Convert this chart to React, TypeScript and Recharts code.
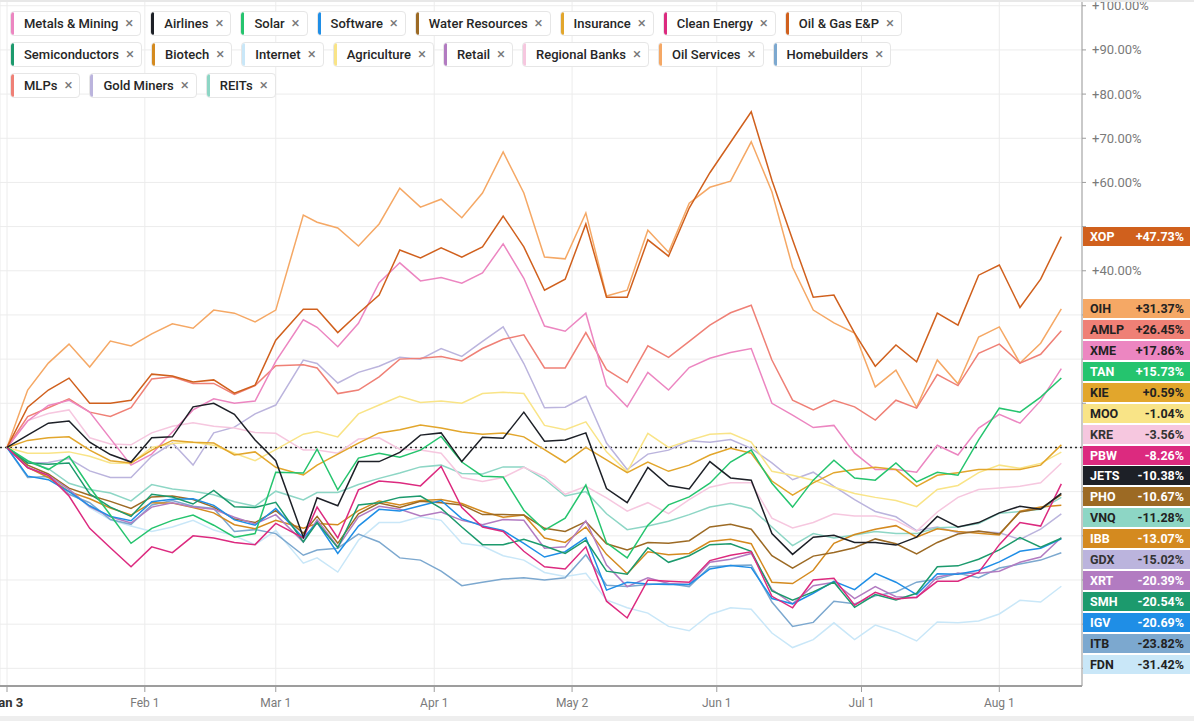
import React from 'react';
import { LineChart, Line, XAxis, YAxis, CartesianGrid, ReferenceLine } from 'recharts';

// trading-day index since Jan 3 (x positions of the samples)
const DAYS = [0,3,6,9,12,15,18,21,24,27,30,33,36,39,43,45,48,51,54,57,60,63,66,69,72,75,78,81,84,87,90,93,96,99,102,105,108,111,114,117,120,123,126,129,132,135,138,141,144,147,150,153];
const TICK_DAYS = [0, 20, 39, 62, 82, 103, 124, 144];
const TICK_LABELS = ['Jan 3', 'Feb 1', 'Mar 1', 'Apr 1', 'May 2', 'Jun 1', 'Jul 1', 'Aug 1'];
const Y_TICKS = [-50, -40, -30, -20, -10, 0, 10, 20, 30, 40, 50, 60, 70, 80, 90, 100];

// % change since Jan 3
const XOP = [0,9.1,13,15.7,10,10,10.7,16.6,16.2,14.8,15.3,12.3,14.1,24.3,31.3,31.3,26,30.4,34.5,44.7,42.9,45.2,43.1,45.4,52.4,45.4,35.6,38.1,50.6,34,34,47,43.3,54.2,62.2,69.1,76,60.5,47,34,34.5,25.9,18.4,23.2,19.4,30.4,27.7,39,41.3,31.7,38.1,47.73];
const OIH = [0,13,19.1,23.4,18.2,24.1,23,25.7,28,27,31.1,30.4,28.4,31.1,52.6,51,49.7,45.6,50.6,58.7,54.4,56.2,52,57.6,66.9,57.6,43.1,42.7,53.1,34.3,35.6,49.2,44.2,55.3,58.9,60.3,69.2,57.9,40.8,31.1,28.2,25.9,13.7,17.5,9.1,19.8,14.4,25,27.3,19.1,23.6,31.37];
const AMLP = [0,7,9,11,8,7,9,15.5,16,14.5,14.5,12,14,18.5,18.7,18,12.2,13,16,20,20.2,20.6,19.6,22.4,24.5,25.5,18,18,26,17.6,14.7,23,20.4,24,27.7,30.5,32.2,19.8,10.7,8.5,10.7,9.2,6.2,10.7,8.9,16.5,14,21.3,23.4,19.1,21.1,26.45];
const XME = [0,6,9.5,10.7,8,2,-4,-1.5,3.5,8.5,11,10,10.5,19.5,28.9,27.2,22.8,28.1,37.3,41.8,37.7,38.5,37.2,39.5,46.1,38.3,27.5,26.3,30.4,14,9.2,17,13,18.1,20.2,21.5,22.4,10,7.3,4.5,5,-1.3,-5,-5,-5.6,0.5,-1.7,4.4,7.5,5.5,10.6,17.86];
const TAN = [0,-3,-5,-2,-9,-15.3,-21.7,-18.3,-16.5,-15.3,-17.6,-20.3,-19.5,-5.6,-5.8,-0.4,-9.6,-2.4,-1.3,-2.2,-0.6,2.5,-3.3,-6.5,-6.7,-14.2,-18.7,-16,-8.5,-21.6,-25,-17.6,-13,-11.2,-8.1,-3.3,-0.6,-8.1,-13.5,-7.4,-2.9,-6.9,-7.4,-3.5,-7.8,-5.6,-6.3,1.7,8.9,8,11.4,15.73];
const KIE = [0,1.6,2.2,2.4,-0.6,-3,-3.5,-0.6,1.6,1.2,1,-1.7,-1,-4.5,-6.2,-4,-1.5,1,3.3,4,5.1,4.4,3.5,3,3.3,2.4,-0.5,-3.4,0,-2.8,-5.7,-3.3,-5.4,-4,-1.7,-0.2,-1.3,-7.6,-10.8,-8,-5.7,-5,-4.5,-5,-8.8,-6.3,-5.7,-5,-5,-5,-4,0.59];
const MOO = [0,-1.3,-1.3,-1,-2,-3.5,-3.6,0,0.9,1.2,0.5,-1.3,-3,-0.5,3,3.6,2.4,7.6,9.6,11.6,10.2,10.5,10,12.2,12.5,12.2,5,4,5.8,-1,-5.5,3.2,0,1.6,3,3.2,1.2,-5.4,-6.3,-7.4,-9,-10.4,-11.3,-12,-13.4,-9.5,-8.6,-5.7,-4,-4.7,-3.6,-1.04];
const KRE = [0,6.1,7.7,8.5,2.2,0.8,0.6,3.3,4.8,5.6,4.8,4.4,3.4,3.2,-0.6,-0.6,-1.3,1.9,2.2,-0.4,-0.6,-1.3,-6.8,-7.7,-6.8,-4.5,-6.6,-10.6,-8.8,-11.4,-14.4,-12.5,-15,-11.8,-9,-8,-8,-16,-18.2,-17,-15,-15.5,-15.5,-16.5,-19,-14.6,-11.3,-9.5,-9.2,-8.8,-8,-3.56];
const PBW = [0,-4.6,-6.3,-11,-18.3,-22.7,-27,-22.5,-23.8,-20,-20.5,-21.5,-22,-17.2,-20.5,-13.5,-20.5,-9.6,-7.6,-8,-8.7,-4.3,-13.6,-18,-19,-23.5,-27,-27.5,-22.5,-34.8,-38.6,-30,-30.3,-30.5,-25.6,-24.4,-23.6,-33.7,-36.3,-30,-29.6,-35.7,-32.8,-34.3,-33.9,-30.3,-30.3,-28.3,-22,-17,-17.8,-8.26];
const JETS = [0,2.8,5.5,6,1.2,-1.6,-3.3,2.2,2.4,9.2,10,7.5,1.7,-3,-20.3,-11.4,-13.2,-3.2,-3.2,-1.1,2.8,3.3,-3.2,2.3,2.1,8,1.4,1.7,3.3,-9.3,-12.5,-4.5,-8.6,-9.4,-3.2,-6.9,-7.4,-19.5,-24.2,-20.3,-19.9,-21.5,-21.5,-22.1,-20.3,-15.6,-18,-17,-14.8,-13.3,-14,-10.38];
const PHO = [0,-4,-6,-9.2,-10.8,-12.2,-13.8,-11.2,-11,-11.8,-13.5,-16.2,-17,-14.3,-19.4,-15.6,-21.7,-15,-12.6,-13.6,-12.2,-12.5,-13,-15.2,-15.2,-15.3,-18.3,-19,-16.8,-21.8,-23.2,-21.5,-21.7,-21.1,-18,-17.4,-18.5,-24.5,-27.3,-24.6,-23.8,-22.7,-20.7,-21.8,-24.1,-21.5,-19.6,-18.9,-19.6,-14.6,-13.8,-10.67];
const VNQ = [0,-3.3,-4.8,-8.1,-9.5,-10.3,-12.1,-8.4,-9.4,-9.9,-10.7,-12.3,-13.3,-9.9,-11.9,-10.2,-10.2,-8.4,-7,-5.8,-4.4,-4,-5.9,-6,-4.4,-4.4,-7.2,-11,-10,-15,-18.6,-17.8,-16.7,-15.2,-13.5,-12.7,-13.8,-18,-22.2,-19.5,-20.5,-19.8,-19,-19.5,-19.5,-18.2,-18,-17.2,-14.9,-14.5,-14,-11.28];
const IBB = [0,-4.5,-6.8,-10,-11.6,-13.7,-15.3,-12.5,-12.6,-13.6,-14.8,-17.5,-18.4,-16.5,-18.3,-17.2,-17.5,-14.3,-12.1,-13,-12,-11.8,-12.7,-14.5,-15.8,-15.3,-20.5,-21.5,-18,-24.2,-28.6,-23.6,-24.3,-24,-21.3,-20.8,-21.8,-30.5,-30.8,-27.8,-21.7,-19.7,-18.5,-17.7,-20.3,-18.4,-19,-19.4,-19.8,-14.4,-13.5,-13.07];
const GDX = [0,-3.5,-3.4,-2.5,-5.3,-6.8,-6.8,-2,1,-4,3.3,4.6,7.6,9.6,19.8,19,14.6,17,18.4,20.4,20,22.4,20.6,24,27.3,19,9,9.1,11.6,1,-5,-1.5,-0.6,1.5,1.2,1.8,-0.2,-3.5,-7.3,-5.6,-8.8,-11.8,-14.5,-15.7,-18.8,-18,-19.3,-19,-19.3,-20.8,-18.5,-15.02];
const XRT = [0,-4.5,-6.3,-9.5,-13.4,-15.7,-17.1,-13.5,-12.5,-13.5,-14,-15.8,-17.3,-15.2,-21.4,-16.4,-22.5,-15.7,-13.3,-14,-15.5,-14.6,-16.5,-17.5,-16.3,-16.5,-22.8,-22.5,-16.6,-26.6,-31.5,-29.5,-30.8,-31,-26,-25.3,-24,-32.2,-35.4,-31.3,-30.5,-34.2,-31.5,-33.8,-34,-29.3,-28.5,-28.5,-28,-26,-24.8,-20.39];
const SMH = [0,-3.5,-3.8,-3.5,-10.5,-13.5,-15.6,-10.6,-11.2,-12.8,-9.7,-13.4,-13.6,-12.4,-21.4,-17,-22.7,-13,-12.5,-11.3,-11,-13.8,-18,-22,-22,-20.8,-22.3,-24,-21,-28,-28.7,-22.7,-26,-24.5,-22,-21.8,-23.5,-32.5,-34.6,-32.7,-30.5,-36.2,-33.3,-34.5,-33,-27,-26.8,-25.3,-23.2,-20.4,-22.6,-20.54];
const IGV = [0,-6.5,-7.3,-10,-13.2,-15.6,-16.6,-12.3,-11.7,-11.6,-13.1,-16.4,-17.6,-13.8,-20.5,-17,-24,-17.8,-14,-14.4,-13.2,-12,-16.1,-17.8,-18.8,-21.7,-24.8,-23.6,-20.4,-32.3,-30.5,-30.9,-31,-31,-27.5,-26.7,-27.2,-34.2,-35.4,-33,-30.3,-32.2,-28.5,-30.5,-33.3,-28.6,-28.7,-27.8,-25.9,-23.5,-22.8,-20.69];
const ITB = [0,-6.8,-6.6,-10.6,-12.5,-16.3,-17.4,-13,-12,-13.3,-13.8,-19,-18.6,-19.5,-24.4,-23.2,-22.8,-19.6,-21.4,-25,-25.5,-28,-31.3,-30.5,-29.8,-29.5,-30,-29.5,-24.3,-31.2,-31.5,-31,-30.8,-31.5,-27,-26.7,-26.6,-35,-40.5,-39.6,-34.8,-35.4,-33.6,-32.7,-30.5,-29.8,-28.5,-29.5,-27.3,-26.4,-25.5,-23.82];
const FDN = [0,-4.3,-6.8,-9.5,-13.6,-16.4,-17.8,-19,-18,-16.5,-18.7,-20,-22,-18.8,-26.2,-25,-28.2,-21,-17,-17,-15.7,-16.5,-21.7,-22.3,-24.5,-25.5,-28.3,-29.2,-28.5,-34.5,-36.3,-37.5,-40.5,-41.5,-37.8,-36.3,-36.6,-42,-45.3,-43.5,-39.7,-43.5,-40.2,-41.7,-43.8,-39.5,-39.7,-39.3,-37.7,-34.6,-35,-31.42];

type Series = { ticker: string; name: string; color: string; text: string; values: number[] };

const SERIES: Series[] = [
  { ticker: 'XME', name: 'Metals & Mining', color: '#ec86c1', text: '#222', values: XME },
  { ticker: 'JETS', name: 'Airlines', color: '#1d2027', text: '#fff', values: JETS },
  { ticker: 'TAN', name: 'Solar', color: '#25c46e', text: '#fff', values: TAN },
  { ticker: 'IGV', name: 'Software', color: '#1f8ee6', text: '#fff', values: IGV },
  { ticker: 'PHO', name: 'Water Resources', color: '#9c6a24', text: '#fff', values: PHO },
  { ticker: 'KIE', name: 'Insurance', color: '#e2a62c', text: '#222', values: KIE },
  { ticker: 'PBW', name: 'Clean Energy', color: '#dc2a7f', text: '#fff', values: PBW },
  { ticker: 'XOP', name: 'Oil & Gas E&P', color: '#d0601d', text: '#fff', values: XOP },
  { ticker: 'SMH', name: 'Semiconductors', color: '#1c9a6d', text: '#fff', values: SMH },
  { ticker: 'IBB', name: 'Biotech', color: '#d48a1f', text: '#fff', values: IBB },
  { ticker: 'FDN', name: 'Internet', color: '#c9e7f8', text: '#222', values: FDN },
  { ticker: 'MOO', name: 'Agriculture', color: '#f9e487', text: '#222', values: MOO },
  { ticker: 'XRT', name: 'Retail', color: '#b27bc1', text: '#fff', values: XRT },
  { ticker: 'KRE', name: 'Regional Banks', color: '#f6c7df', text: '#333', values: KRE },
  { ticker: 'OIH', name: 'Oil Services', color: '#f5a865', text: '#222', values: OIH },
  { ticker: 'ITB', name: 'Homebuilders', color: '#7ca8cf', text: '#222', values: ITB },
  { ticker: 'AMLP', name: 'MLPs', color: '#ef8076', text: '#222', values: AMLP },
  { ticker: 'GDX', name: 'Gold Miners', color: '#bbb4dd', text: '#333', values: GDX },
  { ticker: 'VNQ', name: 'REITs', color: '#8dd6c5', text: '#222', values: VNQ },
];

const LEGEND_ROWS = [
  ['XME', 'JETS', 'TAN', 'IGV', 'PHO', 'KIE', 'PBW', 'XOP'],
  ['SMH', 'IBB', 'FDN', 'MOO', 'XRT', 'KRE', 'OIH', 'ITB'],
  ['AMLP', 'GDX', 'VNQ'],
];

const DRAW_ORDER = ['FDN', 'ITB', 'GDX', 'VNQ', 'KRE', 'MOO', 'OIH', 'AMLP', 'XME', 'IBB', 'PHO', 'KIE', 'XRT', 'IGV', 'SMH', 'TAN', 'PBW', 'XOP', 'JETS'];

const W = 1194;
const H = 721;
const Y_AXIS_W = 112;
const X_AXIS_H = 35;
const PLOT_BOTTOM = H - X_AXIS_H;
const Y_MIN = -54;
const Y_MAX = 101.3;
const X_DOMAIN: [number, number] = [-1.016, 156];
const FONT = 'Roboto, "Liberation Sans", Arial, sans-serif';

const byTicker = (t: string) => SERIES.find((s) => s.ticker === t)!;

const data = DAYS.map((day, i) => {
  const row: Record<string, number> = { day };
  SERIES.forEach((s) => {
    row[s.ticker] = s.values[i];
  });
  return row;
});

const yOf = (v: number) => ((Y_MAX - v) / (Y_MAX - Y_MIN)) * PLOT_BOTTOM;

const fmtPct = (v: number) => (v > 0 ? '+' : '') + v.toFixed(2) + '%';

function badgeLayout() {
  const BH = 20.9;
  const items = SERIES.map((s) => ({ s, last: s.values[s.values.length - 1] }))
    .sort((a, b) => b.last - a.last)
    .map((it) => ({ ...it, y: yOf(it.last) }));
  for (let i = 1; i < items.length; i++) items[i].y = Math.max(items[i].y, items[i - 1].y + BH);
  const n = items.length;
  items[n - 1].y = Math.min(items[n - 1].y, PLOT_BOTTOM - 22);
  for (let i = n - 2; i >= 0; i--) items[i].y = Math.min(items[i].y, items[i + 1].y - BH);
  return items;
}

const BADGES = badgeLayout();

function XTick(props: any) {
  const { x, y, payload } = props;
  const idx = TICK_DAYS.indexOf(payload.value);
  const first = idx === 0;
  return (
    <text
      x={x}
      y={y}
      dy={13}
      textAnchor="middle"
      fontFamily={FONT}
      fontSize={first ? 13 : 12}
      fontWeight={first ? 700 : 400}
      fill={first ? '#333' : '#7a7a7a'}
    >
      {idx >= 0 ? TICK_LABELS[idx] : ''}
    </text>
  );
}

// right-axis labels; the ones sitting under a value badge are hidden by it
function YTick(props: any) {
  const { x, y, payload } = props;
  const covered = BADGES.some((b) => Math.abs(b.y - y) < 13);
  if (covered) return <g />;
  return (
    <text x={x} y={y} dy={4.5} textAnchor="start" fontFamily={FONT} fontSize={13} fill="#7a7a7a">
      {fmtPct(payload.value)}
    </text>
  );
}

function Chip({ s }: { s: Series }) {
  return (
    <div
      style={{
        display: 'inline-flex',
        alignItems: 'center',
        height: 25,
        boxSizing: 'border-box',
        border: '1px solid #e6e6e6',
        borderRadius: 4,
        background: '#fff',
        overflow: 'hidden',
        marginRight: 9,
      }}
    >
      <div style={{ width: 3, alignSelf: 'stretch', background: s.color, borderRadius: 2 }} />
      <span style={{ marginLeft: 10, fontSize: 13, fontWeight: 500, color: '#262626', fontFamily: FONT, whiteSpace: 'nowrap' }}>
        {s.name}
      </span>
      <span style={{ marginLeft: 7, marginRight: 7, fontSize: 15, color: '#777', fontFamily: FONT, lineHeight: '15px' }}>×</span>
    </div>
  );
}

export default function App() {
  return (
    <div style={{ position: 'absolute', left: 0, top: 0, width: W, height: H, background: '#fff', overflow: 'hidden', fontFamily: FONT }}>
      <div style={{ position: 'absolute', left: 0, top: 0 }}>
        <LineChart width={W} height={H} data={data} margin={{ top: 0, right: 0, bottom: 0, left: 0 }}>
          <CartesianGrid stroke="#ececec" strokeWidth={1} />
          <XAxis
            dataKey="day"
            type="number"
            domain={X_DOMAIN}
            allowDataOverflow
            ticks={TICK_DAYS}
            interval={0}
            height={X_AXIS_H}
            axisLine={{ stroke: '#9d9d9d', strokeWidth: 2 }}
            tickLine={{ stroke: '#9d9d9d' }}
            tickSize={6}
            tickMargin={2}
            tick={<XTick />}
          />
          <YAxis
            orientation="right"
            type="number"
            domain={[Y_MIN, Y_MAX]}
            allowDataOverflow
            ticks={Y_TICKS}
            interval={0}
            width={Y_AXIS_W}
            axisLine={{ stroke: '#9d9d9d' }}
            tickLine={{ stroke: '#9d9d9d' }}
            tickSize={4}
            tickMargin={6}
            tick={<YTick />}
          />
          <ReferenceLine y={0} stroke="#2a2a2a" strokeDasharray="2 3" strokeWidth={1.6} />
          {DRAW_ORDER.map((t) => {
            const s = byTicker(t);
            return (
              <Line
                key={t}
                type="linear"
                dataKey={t}
                stroke={s.color}
                strokeWidth={1.5}
                dot={false}
                activeDot={false}
                isAnimationActive={false}
              />
            );
          })}
        </LineChart>
      </div>

      {/* top & bottom light strips */}
      <div style={{ position: 'absolute', left: 0, top: 0, width: W, height: 2, background: '#e8e8e8' }} />
      <div style={{ position: 'absolute', left: 0, top: H - 5, width: W, height: 5, background: '#eeeeee' }} />

      {/* legend chips */}
      <div style={{ position: 'absolute', left: 10, top: 11 }}>
        {LEGEND_ROWS.map((row, ri) => (
          <div key={ri} style={{ display: 'flex', marginBottom: 6 }}>
            {row.map((t) => (
              <Chip key={t} s={byTicker(t)} />
            ))}
          </div>
        ))}
      </div>

      {/* last-value badges */}
      {BADGES.map(({ s, last, y }) => (
        <div
          key={s.ticker}
          style={{
            position: 'absolute',
            left: 1083,
            top: y - 9.5,
            width: 107,
            height: 19,
            background: s.color,
            color: s.text,
            display: 'flex',
            justifyContent: 'space-between',
            alignItems: 'center',
            padding: '0 6px 0 7px',
            boxSizing: 'border-box',
            fontFamily: FONT,
            fontWeight: 700,
            fontSize: 12.5,
          }}
        >
          <span>{s.ticker}</span>
          <span>{fmtPct(last)}</span>
        </div>
      ))}
    </div>
  );
}
